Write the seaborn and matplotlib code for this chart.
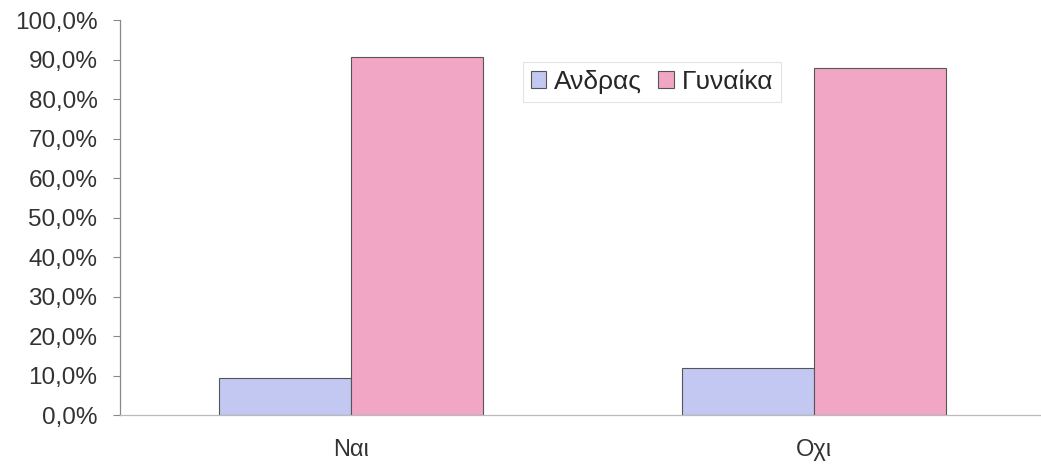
import pandas as pd
import numpy as np
import matplotlib
matplotlib.use("Agg")
import matplotlib.pyplot as plt
from matplotlib.ticker import FuncFormatter
import seaborn as sns

# data
answers = ["Ναι", "Οχι"]
genders = ["Ανδρας", "Γυναικα"]
legend_labels = ["Ανδρας", "Γυναίκα"]
men_pct = [9.4, 12.0]
women_pct = [90.6, 88.0]

df = pd.DataFrame({
    "answer": answers * 2,
    "gender": [genders[0]] * len(answers) + [genders[1]] * len(answers),
    "pct": men_pct + women_pct,
})

sns.set_theme(style="white")
plt.rcParams["font.family"] = ["Liberation Sans", "DejaVu Sans"]

colors = {"Ανδρας": "#C3C8F2", "Γυναικα": "#F2A6C6"}

fig = plt.figure(figsize=(10.41, 4.70), dpi=100)
ax = fig.add_axes([0.115, 0.117, 0.885, 0.840])

sns.barplot(data=df, x="answer", y="pct", hue="gender", order=answers,
            hue_order=genders, palette=colors, width=0.57, ax=ax,
            edgecolor="#555555", linewidth=0.8, saturation=1)

ax.set_ylim(0, 100)
ax.set_xlim(-0.5, 1.49)
ax.set_yticks(np.arange(0, 101, 10))
ax.yaxis.set_major_formatter(FuncFormatter(lambda v, p: f"{v:.1f}%".replace(".", ",")))
ax.tick_params(axis="y", which="major", direction="out", length=5, width=0.8,
               color="#888888", labelsize=17.5, labelcolor="#333333", pad=11, left=True)
ax.tick_params(axis="x", length=0, labelsize=17, labelcolor="#333333", pad=17)
ax.set_xlabel("")
ax.set_ylabel("")

for side in ["top", "right"]:
    ax.spines[side].set_visible(False)
ax.spines["left"].set_color("#888888")
ax.spines["left"].set_linewidth(0.9)
ax.spines["bottom"].set_color("#BBBBBB")
ax.spines["bottom"].set_linewidth(0.9)

handles, _ = ax.get_legend_handles_labels()
leg = ax.legend(handles, legend_labels, loc="upper left", bbox_to_anchor=(0.423, 0.928),
                ncol=2, fontsize=19, frameon=True, handlelength=0.6, handleheight=0.6,
                handletextpad=0.3, columnspacing=0.6, borderpad=0.3, fancybox=False)
leg.get_frame().set_edgecolor("#DDDDDD")
leg.get_frame().set_linewidth(0.8)

plt.savefig("out.png", dpi=100)
